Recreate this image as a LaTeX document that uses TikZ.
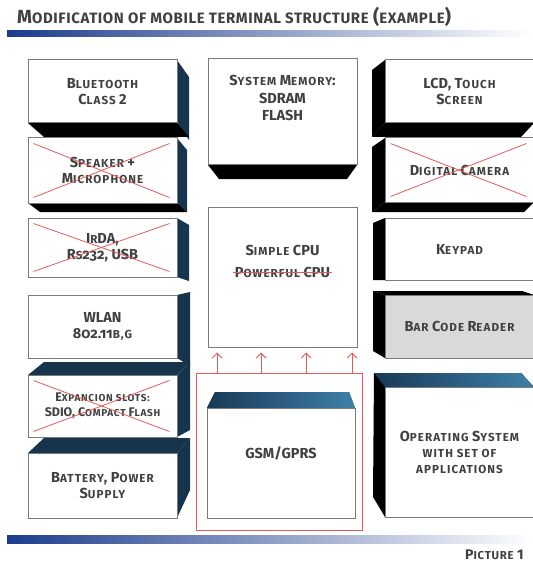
\documentclass[tikz,border=0pt]{standalone}
\usepackage{fontspec}
\setmainfont{Fira Sans}
\usetikzlibrary{arrows.meta,calc}
\pgfdeclarelayer{bg}
\pgfsetlayers{bg,main}

\definecolor{navy}{HTML}{17344D}
\definecolor{ink}{HTML}{404040}
\definecolor{edge}{HTML}{7A7A7A}
\definecolor{strike}{HTML}{E25B5B}
\definecolor{barblue}{HTML}{1C3C8C}
\definecolor{barmid}{HTML}{7890C8}
\definecolor{topdark}{HTML}{173A58}
\definecolor{toplight}{HTML}{3F80A8}
\definecolor{greyfill}{HTML}{D9D9D9}

% hand-made small capitals, slightly tracked
\newcommand\sm[1]{{\fontsize{11.6}{16}\selectfont\addfontfeatures{LetterSpace=9}#1}}
\newcommand\tsm[1]{{\fontsize{15}{18}\selectfont\addfontfeatures{LetterSpace=4}#1}}
\newcommand\xsm[1]{{\fontsize{10}{14}\selectfont\addfontfeatures{LetterSpace=7}#1}}
\newcommand\psm[1]{{\fontsize{11.5}{14}\selectfont\addfontfeatures{LetterSpace=6}#1}}
\newcommand\labelfont{\fontsize{14.5}{16}\selectfont\bfseries}
\newcommand\osnum{\addfontfeatures{Numbers=OldStyle}}

\tikzset{
  face/.style={draw=edge, line width=1pt, fill=white, text=ink,
    align=center, inner sep=0pt, font=\labelfont},
  box/.style={face, minimum width=149pt, minimum height=#1},
  txt/.style={text=ink, align=center, inner sep=0pt, font=\labelfont},
  side/.style={fill=navy},
  dark/.style={fill=black},
  lid/.style={left color=topdark, right color=toplight},
  cross/.style={draw=strike, line width=0.8pt},
  arr/.style={draw=strike, line width=0.9pt,
    -{Straight Barb[length=5pt,width=10pt]}},
}

\begin{document}
\begin{tikzpicture}[x=1pt,y=-1pt]
\useasboundingbox (0,0) rectangle (532,564);

% heading and rules
\node[anchor=west, text=ink, font=\fontsize{19}{20}\selectfont\bfseries, inner sep=0pt]
  (title) at (17,17) {M\tsm{ODIFICATION OF MOBILE TERMINAL STRUCTURE} (\tsm{EXAMPLE})};
\shade[left color=barblue, middle color=barmid, right color=white] (7,31) rectangle (532,37);
\shade[left color=barblue, middle color=barmid, right color=white] (7,535) rectangle (532,543);
\node[anchor=west, text=ink, font=\fontsize{14}{14}\selectfont\bfseries, inner sep=0pt]
  (pic) at (465,555) {P\psm{ICTURE} 1};

% ---- left column
\node[box=63pt]  (bt) at (102.5,91.5) {B\sm{LUETOOTH}\\C\sm{LASS} 2};
\node[box=65pt]  (sp) at (102.5,170.5) {S\sm{PEAKER} +\\M\sm{ICROPHONE}};
\node[box=59pt]  (ir) at (102.5,247.5) {I\sm{R}DA,\\{\osnum R\sm{S}232}, USB};
\node[box=63pt]  (wl) at (102.5,326.5) {WLAN\\{\osnum 802.11\sm{B,G}}};
\node[box=62pt, font=\fontsize{12.5}{15}\selectfont\bfseries]
  (ex) at (102.5,406) {E\xsm{XPANCION SLOTS:}\\SDIO, C\xsm{OMPACT} F\xsm{LASH}};
\node[box=65pt]  (ba) at (102.5,485.5) {B\sm{ATTERY}, P\sm{OWER}\\S\sm{UPPLY}};

% ---- middle column
\node[box=106pt] (mem) at (282.5,112) {};
\node[txt, font=\fontsize{14.5}{17.5}\selectfont\bfseries] (memtxt) at (282.5,98)
  {S\sm{YSTEM} M\sm{EMORY}:\\SDRAM\\FLASH};
\node[box=140pt] (cpu) at (282.5,277) {};
\node[txt] (simple) at (282.5,250) {S\sm{IMPLE} CPU};
\node[txt] (powerful) at (282.5,272) {P\sm{OWERFUL} CPU};
\draw[cross] ([xshift=-2pt]powerful.west) -- ([xshift=2pt]powerful.east);

\node[draw=strike, line width=1pt, minimum width=166pt, minimum height=157pt, inner sep=0pt]
  (frame) at (279,451.5) {};
\node[box=110pt, minimum width=148pt] (gsm) at (281,463) {};
\node[txt] (gsmtxt) at (281,453) {GSM/GPRS};

\coordinate (a1) at (217,0);
\coordinate (a2) at (261,0);
\coordinate (a3) at (306,0);
\coordinate (a4) at (352,0);
\foreach \a in {a1,a2,a3,a4}
  \draw[arr, shorten >=5pt] (frame.north -| \a) -- (cpu.south -| \a);

% ---- right column
\node[box=63pt]  (lcd) at (459.5,91.5) {LCD, T\sm{OUCH}\\S\sm{CREEN}};
\node[box=64pt]  (dc) at (459.5,170) {D\sm{IGITAL} C\sm{AMERA}};
\node[box=62pt]  (kp) at (459.5,249) {K\sm{EYPAD}};
\node[box=63pt, fill=greyfill] (bc) at (459.5,326.5) {B\sm{AR} C\sm{ODE} R\sm{EADER}};
\node[box=130pt] (os) at (459.5,452) {O\sm{PERATING} S\sm{YSTEM}\\\sm{WITH SET OF}\\\sm{APPLICATIONS}};

% crossed-out modules
\foreach \b in {sp,ir,ex,dc}{
  \draw[cross] ($(\b.north west)+(6,6)$) -- ($(\b.south east)+(-8,-6)$);
  \draw[cross] ($(\b.south west)+(6,-6)$) -- ($(\b.north east)+(-8,6)$);
}

% ---- depth faces
\begin{pgfonlayer}{bg}
  % left column: sides towards the middle
  \fill[side] (177,60) -- (189,77) -- (189,140) -- (177,123) -- cycle;
  \fill[dark] (28,123) -- (177,123) -- (189,137) -- (44,137) -- cycle;
  \fill[side] (177,138) -- (187,150) -- (187,212) -- (177,203) -- cycle;
  \fill[dark] (28,203) -- (177,203) -- (187,212) -- (40,212) -- cycle;
  \fill[side] (177,218) -- (189,225) -- (189,281) -- (177,277) -- cycle;
  \fill[side] (177,295) -- (190,292) -- (190,366) -- (177,358) -- cycle;
  \fill[side] (28,375) -- (44,362) -- (190,362) -- (177,375) -- cycle;
  \fill[side] (177,375) -- (190,362) -- (190,430) -- (177,437) -- cycle;
  \fill[side] (28,453) -- (44,438) -- (190,438) -- (177,453) -- cycle;
  \fill[side] (177,453) -- (190,438) -- (190,490) -- (177,518) -- cycle;
  % middle column
  \fill[dark] (208,165) -- (357,165) -- (347,179) -- (219,179) -- cycle;
  \fill[lid] (207,408) -- (215,392) -- (349,392) -- (355,408) -- cycle;
  % right column
  \fill[dark] (385,60) -- (372,70) -- (372,137) -- (385,123) -- cycle;
  \fill[dark] (385,123) -- (534,123) -- (521,137) -- (372,137) -- cycle;
  \fill[dark] (385,138) -- (372,147) -- (372,212) -- (385,202) -- cycle;
  \fill[dark] (385,202) -- (534,202) -- (524,212) -- (372,212) -- cycle;
  \fill[dark] (385,218) -- (373,223) -- (373,280) -- (385,280) -- cycle;
  \fill[dark] (385,295) -- (373,291) -- (373,351) -- (385,358) -- cycle;
  \fill[dark] (385,295) -- (373,291) -- (522,291) -- (534,295) -- cycle;
  \fill[lid] (385,387) -- (374,373) -- (521,373) -- (534,387) -- cycle;
  \fill[dark] (385,387) -- (374,373) -- (373,497) -- (385,517) -- cycle;
\end{pgfonlayer}
\end{tikzpicture}
\end{document}
